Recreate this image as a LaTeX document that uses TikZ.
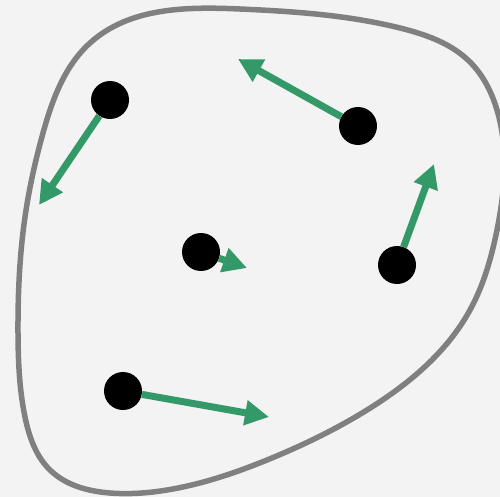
\documentclass[tikz,border=0pt]{standalone}
\usetikzlibrary{hobby,arrows.meta}
\definecolor{bg}{RGB}{243,243,243}
\definecolor{rim}{RGB}{128,128,128}
\definecolor{vgreen}{RGB}{52,153,104}
\begin{document}
\begin{tikzpicture}[x=1pt,y=-1pt,
    dot/.style={circle, fill=black, inner sep=0pt, minimum size=38pt},
    vec/.style={vgreen, line width=7pt, -{Triangle[length=24pt,width=24pt]}}]
    \fill[bg] (0,0) rectangle (500,497);
    \useasboundingbox (0,0) rectangle (500,497);

    % outline of the body
    \draw[rim, line width=5.5pt, use Hobby shortcut, closed=true]
        (90,43) .. (240,9) .. (400,28) .. (470,62) .. (497,110)
        .. (497,230) .. (470,310) .. (367,410) .. (267,460)
        .. (167,490) .. (110,493) .. (50,470) .. (25,417)
        .. (18,333) .. (25,217) .. (43,133);

    % particles
    \node[dot] (p1) at (110,100) {};
    \node[dot] (p2) at (358,126) {};
    \node[dot] (p3) at (201,252) {};
    \node[dot] (p4) at (397,265) {};
    \node[dot] (p5) at (123,391) {};

    % velocity tips
    \coordinate (v1) at (39,205);
    \coordinate (v2) at (238,59);
    \coordinate (v3) at (247,268);
    \coordinate (v4) at (434,164);
    \coordinate (v5) at (269,417);

    \foreach \k in {1,...,5} {
        \draw[vec] (p\k) -- (v\k);
    }
\end{tikzpicture}
\end{document}
